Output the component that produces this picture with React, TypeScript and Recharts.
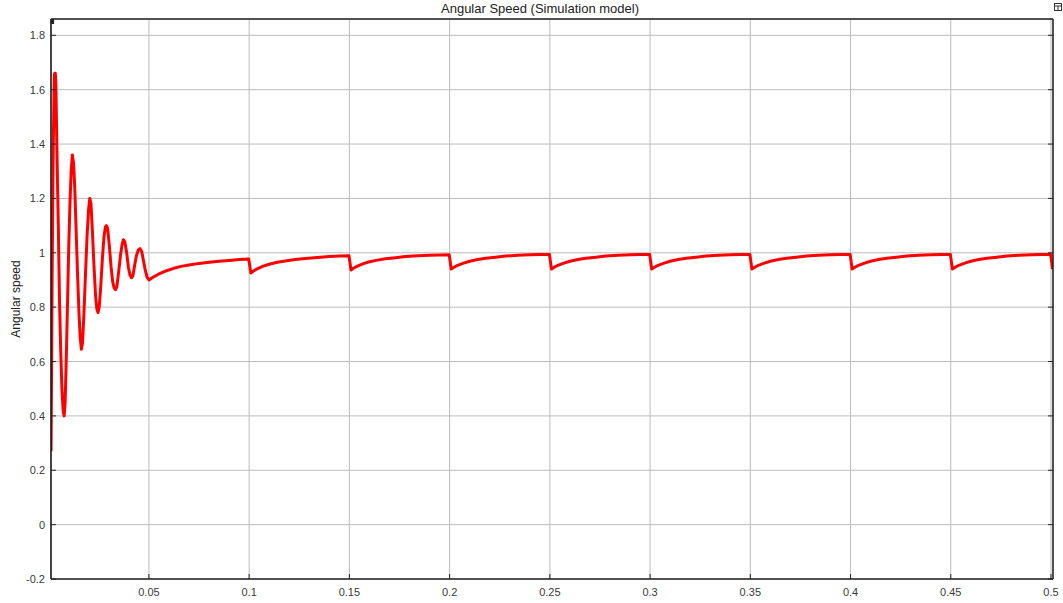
import React from 'react';
import { LineChart, Line, XAxis, YAxis, CartesianGrid } from 'recharts';

const chartTitle = 'Angular Speed (Simulation model)';
const yAxisLabel = 'Angular speed';

const xTicks = [0.05, 0.1, 0.15, 0.2, 0.25, 0.3, 0.35, 0.4, 0.45, 0.5];
const xTickLabels = ['0.05', '0.1', '0.15', '0.2', '0.25', '0.3', '0.35', '0.4', '0.45', '0.5'];
const yTicks = [-0.2, 0, 0.2, 0.4, 0.6, 0.8, 1, 1.2, 1.4, 1.6, 1.8];
const yTickLabels = ['-0.2', '0', '0.2', '0.4', '0.6', '0.8', '1', '1.2', '1.4', '1.6', '1.8'];

const xDomain = [0.00115, 0.501];
const yDomain = [-0.2, 1.86];

// start-up transient (time s, speed)
const transientTime = [
  0.00118, 0.0014, 0.0017, 0.002, 0.0023, 0.0026, 0.0028, 0.003, 0.0033, 0.0036, 0.0038,
  0.0043, 0.0048, 0.0054, 0.006, 0.0066, 0.0072, 0.0077, 0.0082, 0.0088, 0.0094,
  0.01, 0.0106, 0.0112, 0.0118, 0.0124, 0.013, 0.0137, 0.0144, 0.0151, 0.0157,
  0.0163, 0.0169, 0.0176, 0.0184, 0.0192, 0.0199, 0.0205, 0.0211, 0.0218, 0.0226,
  0.0234, 0.024, 0.0246, 0.0252, 0.026, 0.0268, 0.0276, 0.0283, 0.0288, 0.0294,
  0.0302, 0.0311, 0.0319, 0.0326, 0.0333, 0.034, 0.0349, 0.0358, 0.0366, 0.0373,
  0.038, 0.0389, 0.0398, 0.0406, 0.0413, 0.042, 0.0429, 0.0438, 0.0447, 0.0456,
  0.0464, 0.0473, 0.0482, 0.0491, 0.05,
];
const transientSpeed = [
  0.27, 0.53, 0.9, 1.15, 1.4, 1.56, 1.65, 1.66, 1.66, 1.62, 1.52,
  1.3, 1.1, 0.82, 0.64, 0.5, 0.42, 0.4, 0.45, 0.62, 0.82,
  1.02, 1.18, 1.3, 1.36, 1.33, 1.24, 1.08, 0.92, 0.78, 0.69,
  0.645, 0.67, 0.78, 0.93, 1.07, 1.16, 1.2, 1.18, 1.08, 0.95,
  0.84, 0.795, 0.78, 0.8, 0.88, 0.98, 1.06, 1.095, 1.1, 1.09,
  1.03, 0.95, 0.895, 0.872, 0.864, 0.875, 0.93, 0.99, 1.03, 1.048,
  1.04, 1.0, 0.945, 0.917, 0.908, 0.915, 0.955, 0.99, 1.01, 1.015,
  1.005, 0.97, 0.935, 0.91, 0.9,
];

// periodic load steps (time s, speed)
const stepTime = [
  0.052, 0.055, 0.058, 0.062, 0.066, 0.07, 0.075, 0.08, 0.085, 0.09, 0.095, 0.0998,
  0.1008, 0.102, 0.104, 0.107, 0.11, 0.114, 0.118, 0.123, 0.128, 0.134, 0.14, 0.145, 0.1498,
  0.1508, 0.152, 0.154, 0.157, 0.16, 0.164, 0.168, 0.173, 0.178, 0.184, 0.19, 0.195, 0.1998,
  0.2008, 0.202, 0.204, 0.207, 0.21, 0.214, 0.218, 0.223, 0.228, 0.234, 0.24, 0.245, 0.2498,
  0.2508, 0.252, 0.254, 0.257, 0.26, 0.264, 0.268, 0.273, 0.278, 0.284, 0.29, 0.295, 0.2998,
  0.3008, 0.302, 0.304, 0.307, 0.31, 0.314, 0.318, 0.323, 0.328, 0.334, 0.34, 0.345, 0.3498,
  0.3508, 0.352, 0.354, 0.357, 0.36, 0.364, 0.368, 0.373, 0.378, 0.384, 0.39, 0.395, 0.3998,
  0.4008, 0.402, 0.404, 0.407, 0.41, 0.414, 0.418, 0.423, 0.428, 0.434, 0.44, 0.445, 0.4498,
  0.4508, 0.452, 0.454, 0.457, 0.46, 0.464, 0.468, 0.473, 0.478, 0.484, 0.49, 0.495, 0.4998,
  0.5008,
];
const stepSpeed = [
  0.91, 0.922, 0.932, 0.942, 0.95, 0.955, 0.961, 0.965, 0.969, 0.972, 0.975, 0.977,
  0.926, 0.932, 0.941, 0.951, 0.958, 0.965, 0.97, 0.975, 0.979, 0.983, 0.986, 0.988, 0.989,
  0.937, 0.943, 0.951, 0.96, 0.967, 0.973, 0.978, 0.982, 0.986, 0.989, 0.991, 0.992, 0.993,
  0.94, 0.946, 0.954, 0.962, 0.969, 0.975, 0.98, 0.984, 0.988, 0.991, 0.993, 0.994, 0.994,
  0.94, 0.946, 0.954, 0.962, 0.969, 0.975, 0.98, 0.984, 0.988, 0.991, 0.993, 0.994, 0.994,
  0.94, 0.946, 0.954, 0.962, 0.969, 0.975, 0.98, 0.984, 0.988, 0.991, 0.993, 0.994, 0.994,
  0.94, 0.946, 0.954, 0.962, 0.969, 0.975, 0.98, 0.984, 0.988, 0.991, 0.993, 0.994, 0.994,
  0.94, 0.946, 0.954, 0.962, 0.969, 0.975, 0.98, 0.984, 0.988, 0.991, 0.993, 0.994, 0.994,
  0.94, 0.946, 0.954, 0.962, 0.969, 0.975, 0.98, 0.984, 0.988, 0.991, 0.993, 0.994, 0.994,
  0.94,
];

const allTime = [...transientTime, ...stepTime];
const allSpeed = [...transientSpeed, ...stepSpeed];
const data = allTime.map((t, i) => ({ t, v: allSpeed[i] }));

const FONT = '"Liberation Sans", Arial, Helvetica, sans-serif';
const TICK_COLOR = '#262626';
const LABEL_COLOR = '#3a3a3a';

const BottomTick = (props: any) => {
  const { x, y, index } = props;
  return (
    <g>
      <line x1={x} y1={y} x2={x} y2={y - 5} stroke={TICK_COLOR} strokeWidth={1} />
      <text x={x} y={y + 17} textAnchor="middle" fontSize={11} fill={LABEL_COLOR} fontFamily={FONT}>
        {xTickLabels[index]}
      </text>
    </g>
  );
};

const TopTick = (props: any) => {
  const { x, y } = props;
  return <line x1={x} y1={y} x2={x} y2={y + 5} stroke={TICK_COLOR} strokeWidth={1} />;
};

const LeftTick = (props: any) => {
  const { x, y, index } = props;
  return (
    <g>
      <line x1={x} y1={y} x2={x + 5} y2={y} stroke={TICK_COLOR} strokeWidth={1} />
      <text x={x - 6} y={y + 4} textAnchor="end" fontSize={11} fill={LABEL_COLOR} fontFamily={FONT}>
        {yTickLabels[index]}
      </text>
    </g>
  );
};

const RightTick = (props: any) => {
  const { x, y } = props;
  return <line x1={x} y1={y} x2={x - 5} y2={y} stroke={TICK_COLOR} strokeWidth={1} />;
};

export default function App() {
  return (
    <div style={{ position: 'absolute', left: 0, top: 0, width: 1063, height: 603, background: '#fff' }}>
      <LineChart
        width={1063}
        height={603}
        data={data}
        margin={{ top: 0, right: 0, bottom: 0, left: 0 }}
      >
        <CartesianGrid stroke="#bcbcbc" strokeWidth={1} />
        <XAxis
          dataKey="t"
          type="number"
          domain={xDomain}
          ticks={xTicks}
          allowDataOverflow
          height={24}
          tickSize={0}
          tickMargin={0}
          tickLine={false}
          axisLine={{ stroke: '#222', strokeWidth: 1.5 }}
          tick={<BottomTick />}
          interval={0}
        />
        <XAxis
          xAxisId="top"
          orientation="top"
          type="number"
          domain={xDomain}
          ticks={xTicks}
          allowDataOverflow
          height={19}
          tickSize={0}
          tickMargin={0}
          tickLine={false}
          axisLine={{ stroke: '#222', strokeWidth: 1.5 }}
          tick={<TopTick />}
          interval={0}
        />
        <YAxis
          type="number"
          domain={yDomain}
          ticks={yTicks}
          allowDataOverflow
          width={51}
          tickSize={0}
          tickMargin={0}
          tickLine={false}
          axisLine={{ stroke: '#111', strokeWidth: 1.5 }}
          tick={<LeftTick />}
          interval={0}
        />
        <YAxis
          yAxisId="right"
          orientation="right"
          type="number"
          domain={yDomain}
          ticks={yTicks}
          allowDataOverflow
          width={10}
          tickSize={0}
          tickMargin={0}
          tickLine={false}
          axisLine={{ stroke: '#222', strokeWidth: 1.5 }}
          tick={<RightTick />}
          interval={0}
        />
        <Line
          dataKey="v"
          type="linear"
          stroke="#ff0000"
          strokeWidth={3}
          dot={false}
          activeDot={false}
          isAnimationActive={false}
          strokeLinejoin="round"
        />
      </LineChart>
      <svg
        width={1063}
        height={603}
        style={{ position: 'absolute', left: 0, top: 0, pointerEvents: 'none' }}
      >
        <text x={540} y={13} textAnchor="middle" fontSize={13} fill="#222" fontFamily={FONT}>
          {chartTitle}
        </text>
        <text
          x={20}
          y={299}
          textAnchor="middle"
          fontSize={12}
          fill="#222"
          fontFamily={FONT}
          transform="rotate(-90 20 299)"
        >
          {yAxisLabel}
        </text>
        <rect x={1054.5} y={3.5} width={7} height={7} fill="#fff" stroke="#333" strokeWidth={1} />
        <line x1={1054.5} y1={6} x2={1061.5} y2={6} stroke="#333" strokeWidth={1} />
        <line x1={1058} y1={6} x2={1058} y2={10.5} stroke="#333" strokeWidth={1} />
      </svg>
    </div>
  );
}
